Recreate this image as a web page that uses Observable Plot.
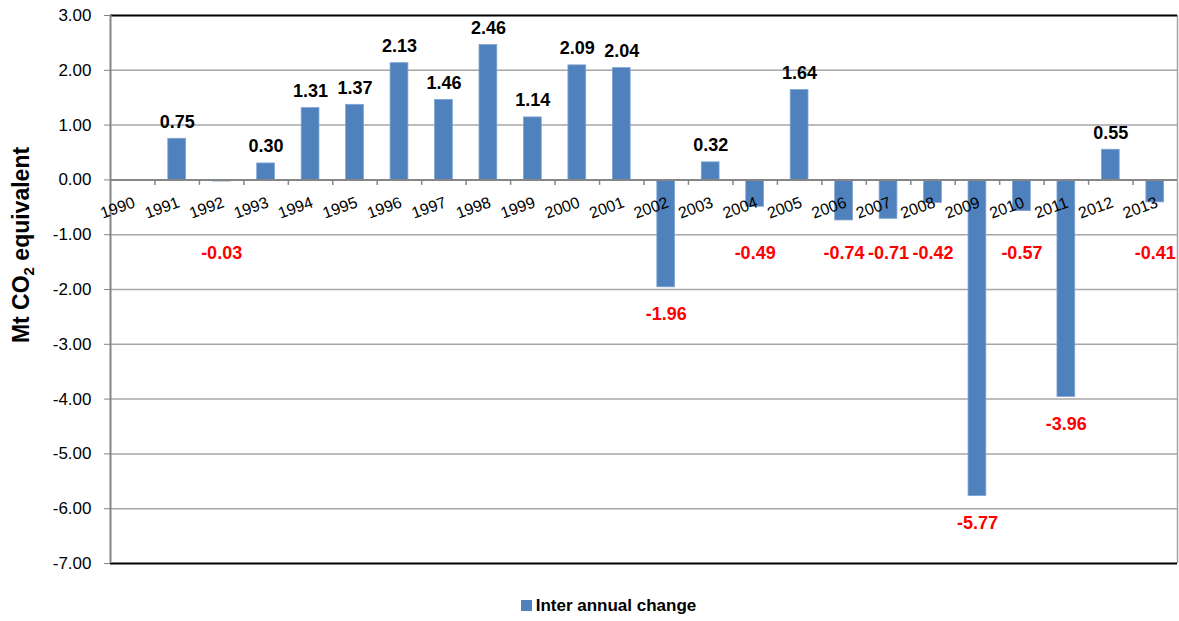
<!DOCTYPE html>
<html><head><meta charset="utf-8">
<script src="https://cdn.jsdelivr.net/npm/d3@7"></script>
<script src="https://cdn.jsdelivr.net/npm/@observablehq/plot@0.6"></script>
<style>
body{margin:0;background:#fff;font-family:"Liberation Sans",Arial,sans-serif}
#legend{height:31px;display:flex;align-items:center;justify-content:center;padding-left:38px;font-weight:bold;font-size:17px;color:#000}
#legend .sw{display:inline-block;width:11px;height:11px;background:#4F81BD;margin-right:4px}
</style>
</head><body><div id="chart"></div><div id="legend"><span class="sw"></span><span id="legtext"></span></div>
<script>
const years = ["1990","1991","1992","1993","1994","1995","1996","1997","1998","1999","2000","2001","2002","2003","2004","2005","2006","2007","2008","2009","2010","2011","2012","2013"];
const changes = [null,0.75,-0.03,0.30,1.31,1.37,2.13,1.46,2.46,1.14,2.09,2.04,-1.96,0.32,-0.49,1.64,-0.74,-0.71,-0.42,-5.77,-0.57,-3.96,0.55,-0.41];
const yTicks = [3,2,1,0,-1,-2,-3,-4,-5,-6,-7];
const seriesName = "Inter annual change";
const yTitleParts = ["Mt CO", "2", " equivalent"];

const rows = years.map((y,i)=>({year:y, value:changes[i]}));
const bars = rows.filter(d=>d.value!=null);
const pos = bars.filter(d=>d.value>=0);
const neg = bars.filter(d=>d.value<0);

const W=1179,H=590,mL=110,mR=2,mT=15,mB=27;
const step=(W-mL-mR)/years.length;
const grid="#A6A6A6", axisGrey="#868686";

const chart = Plot.plot({
  width:W,height:H,marginLeft:mL,marginRight:mR,marginTop:mT,marginBottom:mB,
  style:{fontFamily:"Liberation Sans, Arial, sans-serif",background:"#fff",overflow:"visible"},
  x:{type:"band",domain:years,paddingInner:0.6,paddingOuter:0.3,round:false,axis:null},
  y:{domain:[-7,3],axis:null},
  marks:[
    Plot.ruleY(yTicks.filter(t=>t!==3&&t!==-7&&t!==0),{stroke:grid,strokeWidth:1.5}),
    Plot.ruleX([years[years.length-1]],{x:d=>d,dx:step/2,stroke:grid,strokeWidth:1.5}),
    Plot.barY(bars,{x:"year",y:"value",fill:"#4F81BD",stroke:"#7FA3D3",strokeWidth:0.8}),
    Plot.ruleY([0],{stroke:axisGrey,strokeWidth:2}),
    Plot.ruleX(years.slice(1),{x:d=>d,dx:-step/2,y1:d=>0,y2:d=>-0.1,stroke:axisGrey,strokeWidth:1.5}),
    Plot.ruleY([3,-7],{stroke:"#000",strokeWidth:2}),
    Plot.ruleX([years[0]],{x:d=>d,dx:-step/2,stroke:axisGrey,strokeWidth:2}),
    Plot.axisY({ticks:yTicks,tickFormat:d=>d.toFixed(2),tickSize:6,tickPadding:13,stroke:axisGrey,fill:"#000",fontSize:17,label:null}),
    Plot.text(years,{x:d=>d,y:d=>0,text:d=>d,rotate:-20,dx:-15,dy:28,fontSize:16,fill:"#000"}),
    Plot.text(pos,{x:"year",y:"value",text:d=>d.value.toFixed(2),dy:-17,fontSize:18,fontWeight:"bold",fill:"#000"}),
    Plot.text(neg,{x:"year",y:d=>d.value<-1?d.value-0.5:-1.33,text:d=>d.value.toFixed(2),fontSize:18,fontWeight:"bold",fill:"#FF0000"})
  ]
});
document.getElementById("chart").appendChild(chart);
const svg=d3.select(chart);
const t=svg.append("text").attr("transform","translate(29,245) rotate(-90)")
  .attr("text-anchor","middle").attr("font-weight","bold").attr("font-size",23).attr("fill","#000")
  .attr("font-family","Liberation Sans, Arial, sans-serif");
t.append("tspan").text(yTitleParts[0]);
t.append("tspan").attr("font-size",15).attr("dy",5).text(yTitleParts[1]);
t.append("tspan").attr("dy",-5).text(yTitleParts[2]);
document.getElementById("legtext").textContent=seriesName;
</script>
</body></html>
